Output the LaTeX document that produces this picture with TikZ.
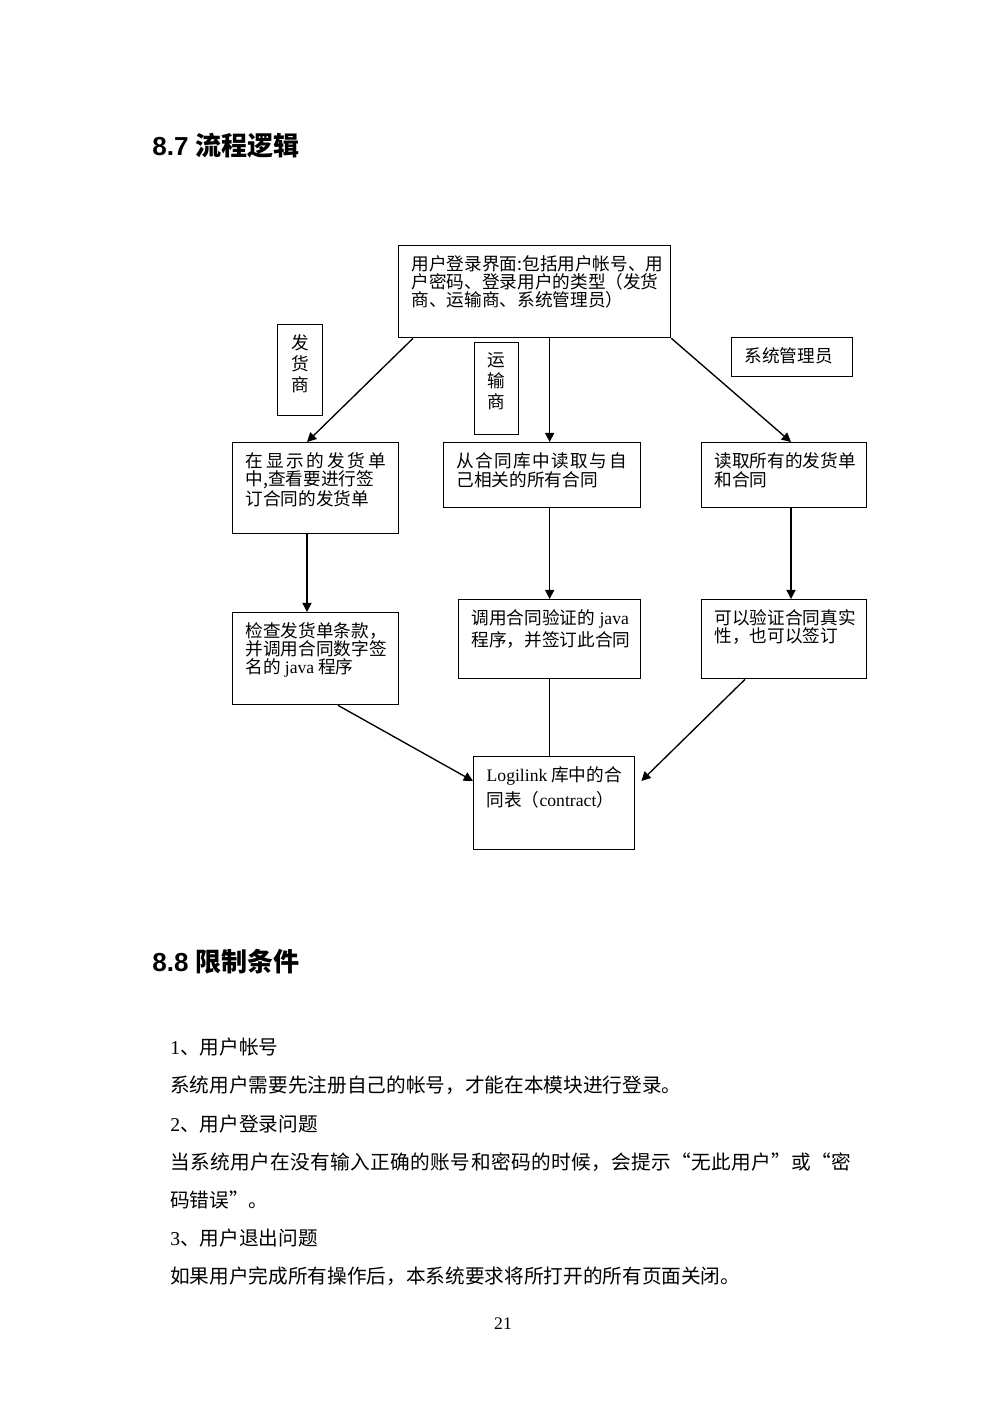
\documentclass[tikz,border=0pt]{standalone}
\usepackage{fontspec}
\setmainfont{Noto Sans CJK SC}
\newfontfamily\latin{Liberation Serif}
\newfontfamily\heavy{Liberation Sans}
\usetikzlibrary{arrows.meta,positioning}

\newlength\px
\setlength\px{0.5953pt}
% box text: top-left aligned, width and height of the whole box in px
\newcommand{\cell}[3]{\parbox[t][\dimexpr#2\px-20\px\relax][t]{\dimexpr#1\px-26\px\relax}{\raggedright#3}}
\newcommand{\tagcell}[3]{\parbox[t][\dimexpr#2\px-20\px\relax][t]{\dimexpr#1\px-26\px\relax}{\centering#3}}

\tikzset{
  box/.style={draw, line width=0.8pt, anchor=north west, inner xsep=13\px, inner ysep=10\px,
    font=\fontsize{10.5pt}{10.8pt}\selectfont},
  flow/.style={line width=0.8pt, -{Triangle[length=5.5pt,width=5.5pt]}},
  link/.style={line width=0.8pt},
  heading/.style={anchor=base west, inner sep=0pt, font=\fontsize{15.5pt}{18pt}\selectfont\bfseries},
  body/.style={anchor=base west, inner sep=0pt, font=\fontsize{11.7pt}{14pt}\selectfont},
}

\begin{document}
\begin{tikzpicture}[x=0.5953pt, y=-0.5953pt]
\useasboundingbox (0,0) rectangle (1000,1415);

\node[heading] (h87) at (152,156) {{\heavy\bfseries 8.7 }流程逻辑};

% flow chart
\node[box] (login) at (398,245) {\cell{272}{92}{用户登录界面:包括用户帐号、用\\户密码、登录用户的类型（发货\\商、运输商、系统管理员）}};
\node[box] (tagship) at (277,324) {\tagcell{45}{91}{发\\[1.7pt]货\\[1.7pt]商}};
\node[box] (tagcarry) at (474,342) {\tagcell{44}{92}{运\\[1.7pt]输\\[1.7pt]商}};
\node[box] (tagadmin) at (731,337) {\cell{121}{39}{系统管理员}};

\node[box] (show) at (232,442) {\cell{166}{91}{\makebox[140\px][s]{在\hfill 显\hfill 示\hfill 的\hfill 发\hfill 货\hfill 单}\\中,查看要进行签\\订合同的发货单}};
\node[box] (read) at (443,442) {\cell{197}{65}{\makebox[170\px][s]{从\hfill 合\hfill 同\hfill 库\hfill 中\hfill 读\hfill 取\hfill 与\hfill 自}\\[0.5pt]己相关的所有合同}};
\node[box] (readall) at (701,442) {\cell{165}{65}{读取所有的发货单\\[0.5pt]和合同}};

\node[box] (check) at (232,612) {\cell{166}{92}{检查发货单条款，\\并调用合同数字签\\名的 {\latin java} 程序}};
\node[box] (verify) at (458,599) {\cell{182}{79}{\mbox{调用合同验证的{\latin\ java}}\\[1.2pt]程序，并签订此合同}};
\node[box] (auth) at (701,599) {\cell{165}{79}{可以验证合同真实\\性，也可以签订}};

\node[box] (db) at (473,756) {\cell{161}{93}{{\latin Logilink} 库中的合\\[2.4pt]同表（{\latin contract}）}};

\draw[flow] ([xshift=15\px]login.south west) -- ([xshift=75\px]show.north west);
\draw[flow] (login.south -| verify.north) -- (read.north -| verify.north);
\draw[flow] (login.south east) -- ([xshift=90\px]readall.north west);
\draw[flow] ([xshift=75\px]show.south west) -- ([xshift=75\px]check.north west);
\draw[flow] (read.south -| verify.north) -- (verify.north);
\draw[flow] ([xshift=90\px]readall.south west) -- ([xshift=90\px]auth.north west);
\draw[flow] ([xshift=106\px]check.south west) -- ([yshift=-25\px]db.north west);
\draw[link] (verify.south) -- (verify.south |- db.north);
\draw[flow] ([xshift=44\px]auth.south west) -- ([xshift=6\px,yshift=-25\px]db.north east);

\node[heading] (h88) at (152,971) {{\heavy\bfseries 8.8 }限制条件};

% restrictions
\node[body] (r1) at (170,1054) {{\latin 1}、用户帐号};
\node[body] (r1a) at (170,1092) {系统用户需要先注册自己的帐号，才能在本模块进行登录。};
\node[body] (r2) at (170,1131) {{\latin 2}、用户登录问题};
\node[body] (r2a) at (170,1169) {\addfontfeature{LetterSpace=2}当系统用户在没有输入正确的账号和密码的时候，会提示“无此用户”或“密};
\node[body] (r2b) at (170,1207) {码错误”。};
\node[body] (r3) at (170,1245) {{\latin 3}、用户退出问题};
\node[body] (r3a) at (170,1283) {如果用户完成所有操作后，本系统要求将所打开的所有页面关闭。};
\node[anchor=base, inner sep=0pt, font=\latin\fontsize{10.5pt}{12pt}\selectfont] (page) at (503,1329) {21};
\end{tikzpicture}
\end{document}
